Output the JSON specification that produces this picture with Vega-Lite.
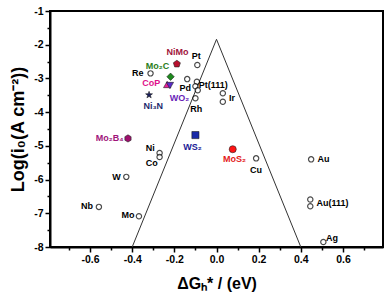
{
  "$schema": "https://vega.github.io/schema/vega-lite/v6.json",
  "width": 333,
  "height": 236,
  "autosize": "none",
  "padding": {"left": 50, "top": 11, "right": 4, "bottom": 48},
  "background": "white",
  "config": {"view": {"stroke": "black", "strokeWidth": 2}, "font": "Liberation Sans"},
  "datasets": {
    "volcano": [
      {"x": -0.4, "y": -8},
      {"x": 0, "y": -1.84},
      {"x": 0.4, "y": -8}
    ],
    "metals": [
      {"name": "Pt", "x": -0.091, "y": -2.60},
      {"name": "Re", "x": -0.313, "y": -2.85},
      {"name": "Pd", "x": -0.139, "y": -3.02},
      {"name": "Pt(111)", "x": -0.093, "y": -3.10},
      {"name": "Pt(111)", "x": -0.100, "y": -3.23},
      {"name": "Pt(111)", "x": -0.089, "y": -3.35},
      {"name": "Rh", "x": -0.100, "y": -3.59},
      {"name": "Ir", "x": 0.030, "y": -3.44},
      {"name": "Ir", "x": 0.030, "y": -3.69},
      {"name": "Cu", "x": 0.188, "y": -5.37},
      {"name": "Au", "x": 0.449, "y": -5.40},
      {"name": "Au(111)", "x": 0.445, "y": -6.59},
      {"name": "Au(111)", "x": 0.445, "y": -6.79},
      {"name": "Ag", "x": 0.507, "y": -7.85},
      {"name": "Ni", "x": -0.270, "y": -5.21},
      {"name": "Co", "x": -0.270, "y": -5.33},
      {"name": "W", "x": -0.428, "y": -5.92},
      {"name": "Nb", "x": -0.558, "y": -6.81},
      {"name": "Mo", "x": -0.368, "y": -7.09}
    ],
    "compounds": [
      {"kind": "NiMo", "x": -0.188, "y": -2.57},
      {"kind": "Mo2C", "x": -0.218, "y": -2.95},
      {"kind": "CoP", "x": -0.234, "y": -3.18},
      {"kind": "WO2", "x": -0.221, "y": -3.21},
      {"kind": "Ni3N", "x": -0.320, "y": -3.49},
      {"kind": "Mo2B4", "x": -0.420, "y": -4.78},
      {"kind": "WS2", "x": -0.100, "y": -4.68},
      {"kind": "MoS2", "x": 0.077, "y": -5.10}
    ],
    "labels": [
      {"label": "NiMo", "grp": "NiMo", "lx": -0.185, "ly": -2.22},
      {"label": "Pt", "grp": "metal", "lx": -0.096, "ly": -2.33},
      {"label": "Re", "grp": "metal", "lx": -0.374, "ly": -2.84},
      {"label": "Mo₂C", "grp": "Mo2C", "lx": -0.28, "ly": -2.62},
      {"label": "CoP", "grp": "CoP", "lx": -0.31, "ly": -3.15},
      {"label": "Pd", "grp": "metal", "lx": -0.148, "ly": -3.29},
      {"label": "Pt(111)", "grp": "metal", "lx": -0.015, "ly": -3.20},
      {"label": "Ir", "grp": "metal", "lx": 0.073, "ly": -3.57},
      {"label": "Rh", "grp": "metal", "lx": -0.096, "ly": -3.91},
      {"label": "WO₂", "grp": "WO2", "lx": -0.175, "ly": -3.59},
      {"label": "Ni₃N", "grp": "Ni3N", "lx": -0.30, "ly": -3.82},
      {"label": "Mo₂B₄", "grp": "Mo2B4", "lx": -0.507, "ly": -4.78},
      {"label": "WS₂", "grp": "WS2", "lx": -0.114, "ly": -5.04},
      {"label": "MoS₂", "grp": "MoS2", "lx": 0.085, "ly": -5.40},
      {"label": "Cu", "grp": "metal", "lx": 0.188, "ly": -5.72},
      {"label": "Au", "grp": "metal", "lx": 0.508, "ly": -5.40},
      {"label": "Au(111)", "grp": "metal", "lx": 0.55, "ly": -6.70},
      {"label": "Ag", "grp": "metal", "lx": 0.548, "ly": -7.73},
      {"label": "Ni", "grp": "metal", "lx": -0.314, "ly": -5.05},
      {"label": "Co", "grp": "metal", "lx": -0.307, "ly": -5.52},
      {"label": "W", "grp": "metal", "lx": -0.475, "ly": -5.92},
      {"label": "Nb", "grp": "metal", "lx": -0.615, "ly": -6.79},
      {"label": "Mo", "grp": "metal", "lx": -0.42, "ly": -7.06}
    ]
  },
  "resolve": {"axis": {"x": "independent", "y": "independent"}},
  "layer": [
    {
      "data": {"name": "volcano"},
      "mark": {"type": "line", "color": "#333333", "strokeWidth": 1},
      "encoding": {
        "x": {
          "field": "x", "type": "quantitative",
          "scale": {"domain": [-0.79, 0.79], "nice": false, "zero": false},
          "axis": {
            "orient": "bottom",
            "values": [-0.6, -0.4, -0.2, 0, 0.2, 0.4, 0.6],
            "labelExpr": "replace(format(datum.value, '.1f'), '−', '-')",
            "tickSize": 5, "tickWidth": 1.5, "tickColor": "black",
            "domainColor": "black", "domainWidth": 2,
            "labelFont": "Liberation Sans", "labelFontWeight": "bold", "labelFontSize": 10.5,
            "labelColor": "black", "labelPadding": 2, "labelFlush": false, "labelOverlap": false,
            "grid": false,
            "title": "ΔGₕ* / (eV)", "titleFont": "Liberation Sans", "titleFontSize": 16,
            "titleFontWeight": "bold", "titleColor": "black", "titlePadding": 11
          }
        },
        "y": {
          "field": "y", "type": "quantitative",
          "scale": {"domain": [-8, -1], "nice": false, "zero": false},
          "axis": {
            "orient": "left",
            "values": [-8, -7, -6, -5, -4, -3, -2, -1],
            "labelExpr": "'' + datum.value",
            "tickSize": 5, "tickWidth": 1.5, "tickColor": "black",
            "domainColor": "black", "domainWidth": 2,
            "labelFont": "Liberation Sans", "labelFontWeight": "bold", "labelFontSize": 10.5,
            "labelColor": "black", "labelPadding": 2, "labelFlush": false, "labelOverlap": false,
            "grid": false,
            "title": "Log(i₀(A cm⁻²))", "titleFont": "Liberation Sans", "titleFontSize": 18,
            "titleFontWeight": "bold", "titleColor": "black", "titlePadding": 6
          }
        }
      }
    },
    {
      "data": {"name": "metals"},
      "mark": {"type": "point", "shape": "circle", "filled": true, "fill": "white", "stroke": "black", "strokeWidth": 1.2, "size": 28},
      "encoding": {
        "x": {
          "field": "x", "type": "quantitative",
          "axis": {
            "orient": "bottom",
            "values": [-0.7, -0.5, -0.3, -0.1, 0.1, 0.3, 0.5, 0.7],
            "labels": false, "domain": false, "grid": false, "title": null,
            "tickSize": 3, "tickWidth": 1.5, "tickColor": "black"
          }
        },
        "y": {
          "field": "y", "type": "quantitative",
          "axis": {
            "orient": "left",
            "values": [-7.5, -6.5, -5.5, -4.5, -3.5, -2.5, -1.5],
            "labels": false, "domain": false, "grid": false, "title": null,
            "tickSize": 3, "tickWidth": 1.5, "tickColor": "black"
          }
        }
      }
    },
    {
      "data": {"name": "compounds"},
      "mark": {"type": "point", "filled": true, "stroke": "#222222", "strokeWidth": 0.6, "opacity": 1},
      "encoding": {
        "x": {"field": "x", "type": "quantitative", "axis": null},
        "y": {"field": "y", "type": "quantitative", "axis": null},
        "shape": {
          "field": "kind", "type": "nominal", "legend": null,
          "scale": {
            "domain": ["NiMo", "Mo2C", "CoP", "WO2", "Ni3N", "Mo2B4", "WS2", "MoS2"],
            "range": [
              "M0,-1L0.951,-0.309L0.588,0.809L-0.588,0.809L-0.951,-0.309Z",
              "diamond",
              "triangle-up",
              "triangle-down",
              "M0,-1L0.235,-0.324L0.951,-0.309L0.380,0.124L0.588,0.809L0,0.4L-0.588,0.809L-0.380,0.124L-0.951,-0.309L-0.235,-0.324Z",
              "M0,-1L0.866,-0.5L0.866,0.5L0,1L-0.866,0.5L-0.866,-0.5Z",
              "square",
              "circle"
            ]
          }
        },
        "fill": {
          "field": "kind", "type": "nominal", "legend": null,
          "scale": {
            "domain": ["NiMo", "Mo2C", "CoP", "WO2", "Ni3N", "Mo2B4", "WS2", "MoS2"],
            "range": ["#b8102e", "#1d8a1d", "#e81e9a", "#5a2ac8", "#1a1f5e", "#a0106e", "#1a2aa8", "#ff1414"]
          }
        },
        "size": {
          "field": "kind", "type": "nominal", "legend": null,
          "scale": {
            "domain": ["NiMo", "Mo2C", "CoP", "WO2", "Ni3N", "Mo2B4", "WS2", "MoS2"],
            "range": [55, 50, 55, 55, 60, 50, 36, 80]
          }
        }
      }
    },
    {
      "data": {"name": "labels"},
      "mark": {"type": "text", "font": "Liberation Sans", "fontWeight": "bold", "fontSize": 9, "align": "center", "baseline": "middle"},
      "encoding": {
        "x": {"field": "lx", "type": "quantitative", "axis": null},
        "y": {"field": "ly", "type": "quantitative", "axis": null},
        "text": {"field": "label", "type": "nominal"},
        "color": {
          "field": "grp", "type": "nominal", "legend": null,
          "scale": {
            "domain": ["metal", "NiMo", "Mo2C", "CoP", "WO2", "Ni3N", "Mo2B4", "WS2", "MoS2"],
            "range": ["#000000", "#a0143c", "#2a7d1a", "#e0108c", "#6a1fb8", "#1e2a6e", "#a0147a", "#1a1a96", "#e41a1a"]
          }
        }
      }
    }
  ]
}
